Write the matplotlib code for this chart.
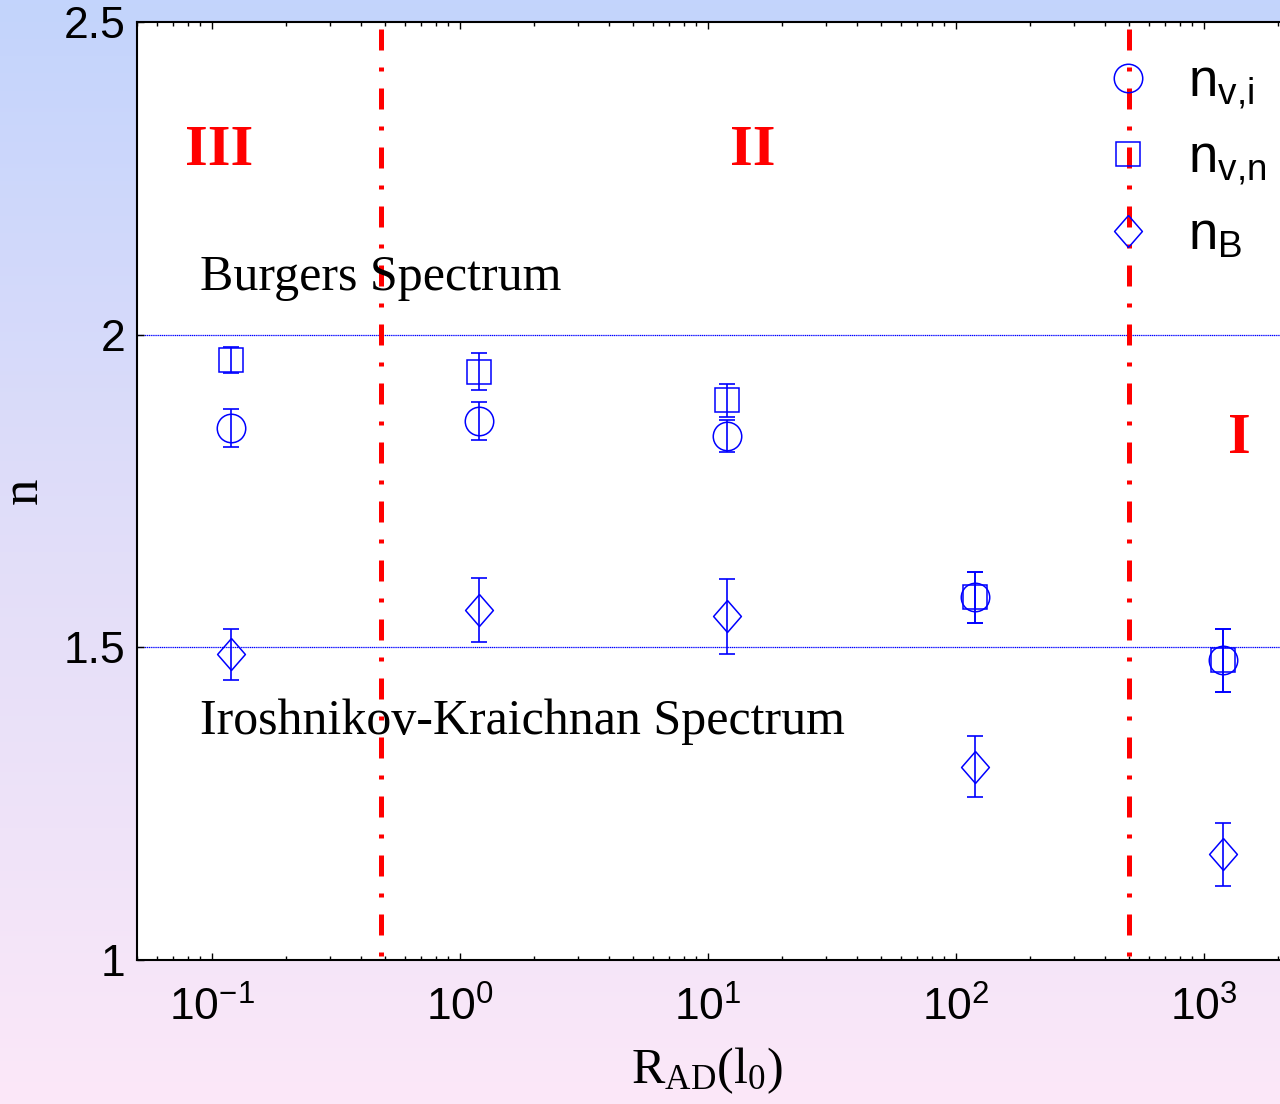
import numpy as np
import matplotlib
matplotlib.use("Agg")
import matplotlib.pyplot as plt
from matplotlib.ticker import FixedLocator, LogLocator, FuncFormatter, NullFormatter
from matplotlib.colors import LinearSegmentedColormap

# ---------------- data ----------------
r_ad = [0.12, 1.2, 12, 120, 1200]               # R_AD (l_0)
n_vi = [1.851, 1.862, 1.838, 1.580, 1.479]
n_vi_err = [0.030, 0.030, 0.026, 0.041, 0.050]
n_vn = [1.960, 1.941, 1.895, 1.580, 1.479]
n_vn_err = [0.021, 0.030, 0.026, 0.041, 0.050]
n_B = [1.489, 1.560, 1.550, 1.309, 1.169]
n_B_err = [0.041, 0.051, 0.060, 0.049, 0.050]

spectrum_levels = [2.0, 1.5]                    # Burgers, Iroshnikov-Kraichnan
region_bounds = [0.48, 500]                     # region boundaries
ytick_vals = [1, 1.5, 2, 2.5]
ytick_labels = ["1", "1.5", "2", "2.5"]
labels = [r"$\mathregular{n_{v{,}i}}$", r"$\mathregular{n_{v{,}n}}$", r"$\mathregular{n_{B}}$"]

W, H = 1280, 1104
fig = plt.figure(figsize=(W / 100, H / 100), dpi=100)

# background gradient
bg = fig.add_axes([0, 0, 1, 1], zorder=-10)
cmap = LinearSegmentedColormap.from_list("bg", ["#c3d4fc", "#e2def9", "#fce8f8"])
grad = np.linspace(0, 1, 256).reshape(-1, 1)
bg.imshow(grad, aspect="auto", cmap=cmap, extent=[0, 1, 0, 1], origin="upper")
bg.set_axis_off()

# main axes (right edge extends beyond the figure)
L, R, T, B = 137, 1377, 22, 960
ax = fig.add_axes([L / W, 1 - B / H, (R - L) / W, (B - T) / H])
ax.set_facecolor("white")
ax.set_xscale("log")
ax.set_xlim(0.05, 5000)
ax.set_ylim(1, 2.5)

def fx(px):
    return (px - L) / (R - L)

def fy(py):
    return (B - py) / (B - T)

# reference spectra lines
for lev in spectrum_levels:
    ax.axhline(lev, color="blue", lw=0.9, ls=(0, (1, 0.5)), zorder=1)

# region boundaries
for b in region_bounds:
    ax.plot([b, b], [2.5, 1.0], color="red", lw=3.6,
            ls=(10.4, (4.2, 3.4, 0.8, 3.4)), solid_capstyle="butt",
            dash_capstyle="butt", zorder=2)

# error bars
for y, e in [(n_vi, n_vi_err), (n_vn, n_vn_err), (n_B, n_B_err)]:
    ax.errorbar(r_ad, y, yerr=e, fmt="none", ecolor="blue", elinewidth=1.2,
                capsize=6, capthick=1.2, zorder=3)

diamond = [(0, 1), (0.87, 0), (0, -1), (-0.87, 0), (0, 1)]
h1, = ax.plot(r_ad, n_vi, ls="none", marker="o", ms=20.5, mfc="none",
              mec="blue", mew=1.1, zorder=4, label=labels[0])
h2, = ax.plot(r_ad, n_vn, ls="none", marker="s", ms=17, mfc="none",
              mec="blue", mew=1.1, zorder=4, label=labels[1])
h3, = ax.plot(r_ad, n_B, ls="none", marker=diamond, ms=23, mfc="none",
              mec="blue", mew=1.1, zorder=4, label=labels[2])

# ticks
ax.xaxis.set_major_locator(LogLocator(base=10, numticks=20))
ax.xaxis.set_minor_locator(LogLocator(base=10, subs=np.arange(2, 10), numticks=20))
ax.xaxis.set_major_formatter(FuncFormatter(
    lambda v, p: r"$\mathregular{10^{%d}}$" % int(round(np.log10(v)))))
ax.xaxis.set_minor_formatter(NullFormatter())
ax.yaxis.set_major_locator(FixedLocator(ytick_vals))
ax.set_yticklabels(ytick_labels)
ax.tick_params(axis="both", which="both", direction="in", top=True, right=True,
               color="black", width=1.0)
ax.tick_params(axis="both", which="major", length=5, labelsize=32)
ax.tick_params(axis="both", which="minor", length=3)
ax.tick_params(axis="y", pad=8.5)
ax.tick_params(axis="x", pad=19)
for lab in ax.get_xticklabels() + ax.get_yticklabels():
    lab.set_fontfamily("Liberation Sans")

for s in ax.spines.values():
    s.set_linewidth(1.5)

# axis labels
ax.set_ylabel("n", fontfamily="Liberation Serif", fontsize=38)
ax.yaxis.set_label_coords(fx(48), 0.5)
ax.set_xlabel(r"$\mathregular{R_{AD}(l_0)}$", fontfamily="Liberation Serif", fontsize=36)
ax.xaxis.set_label_coords(fx(707), fy(1045))

# annotations
ax.text(fx(200), fy(290), "Burgers Spectrum", transform=ax.transAxes,
        fontfamily="Liberation Serif", fontsize=36, va="baseline", ha="left")
ax.text(fx(200), fy(734), "Iroshnikov-Kraichnan Spectrum", transform=ax.transAxes,
        fontfamily="Liberation Serif", fontsize=36, va="baseline", ha="left")
for txt, px, py in [("III", 219, 165), ("II", 753, 165), ("I", 1239, 453)]:
    ax.text(fx(px), fy(py), txt, transform=ax.transAxes, color="red",
            fontfamily="Liberation Serif", fontweight="bold", fontsize=42,
            va="baseline", ha="center")

# legend
leg = ax.legend(handles=[h1, h2, h3], loc="upper left",
                bbox_to_anchor=(1102 / W, 1 - 57 / H), bbox_transform=fig.transFigure,
                frameon=False, prop={"family": "Liberation Sans", "size": 38},
                handlelength=1.0, handletextpad=0.62, labelspacing=0.43,
                borderpad=0, borderaxespad=0, numpoints=1)

fig.savefig("out.png", dpi=100)
